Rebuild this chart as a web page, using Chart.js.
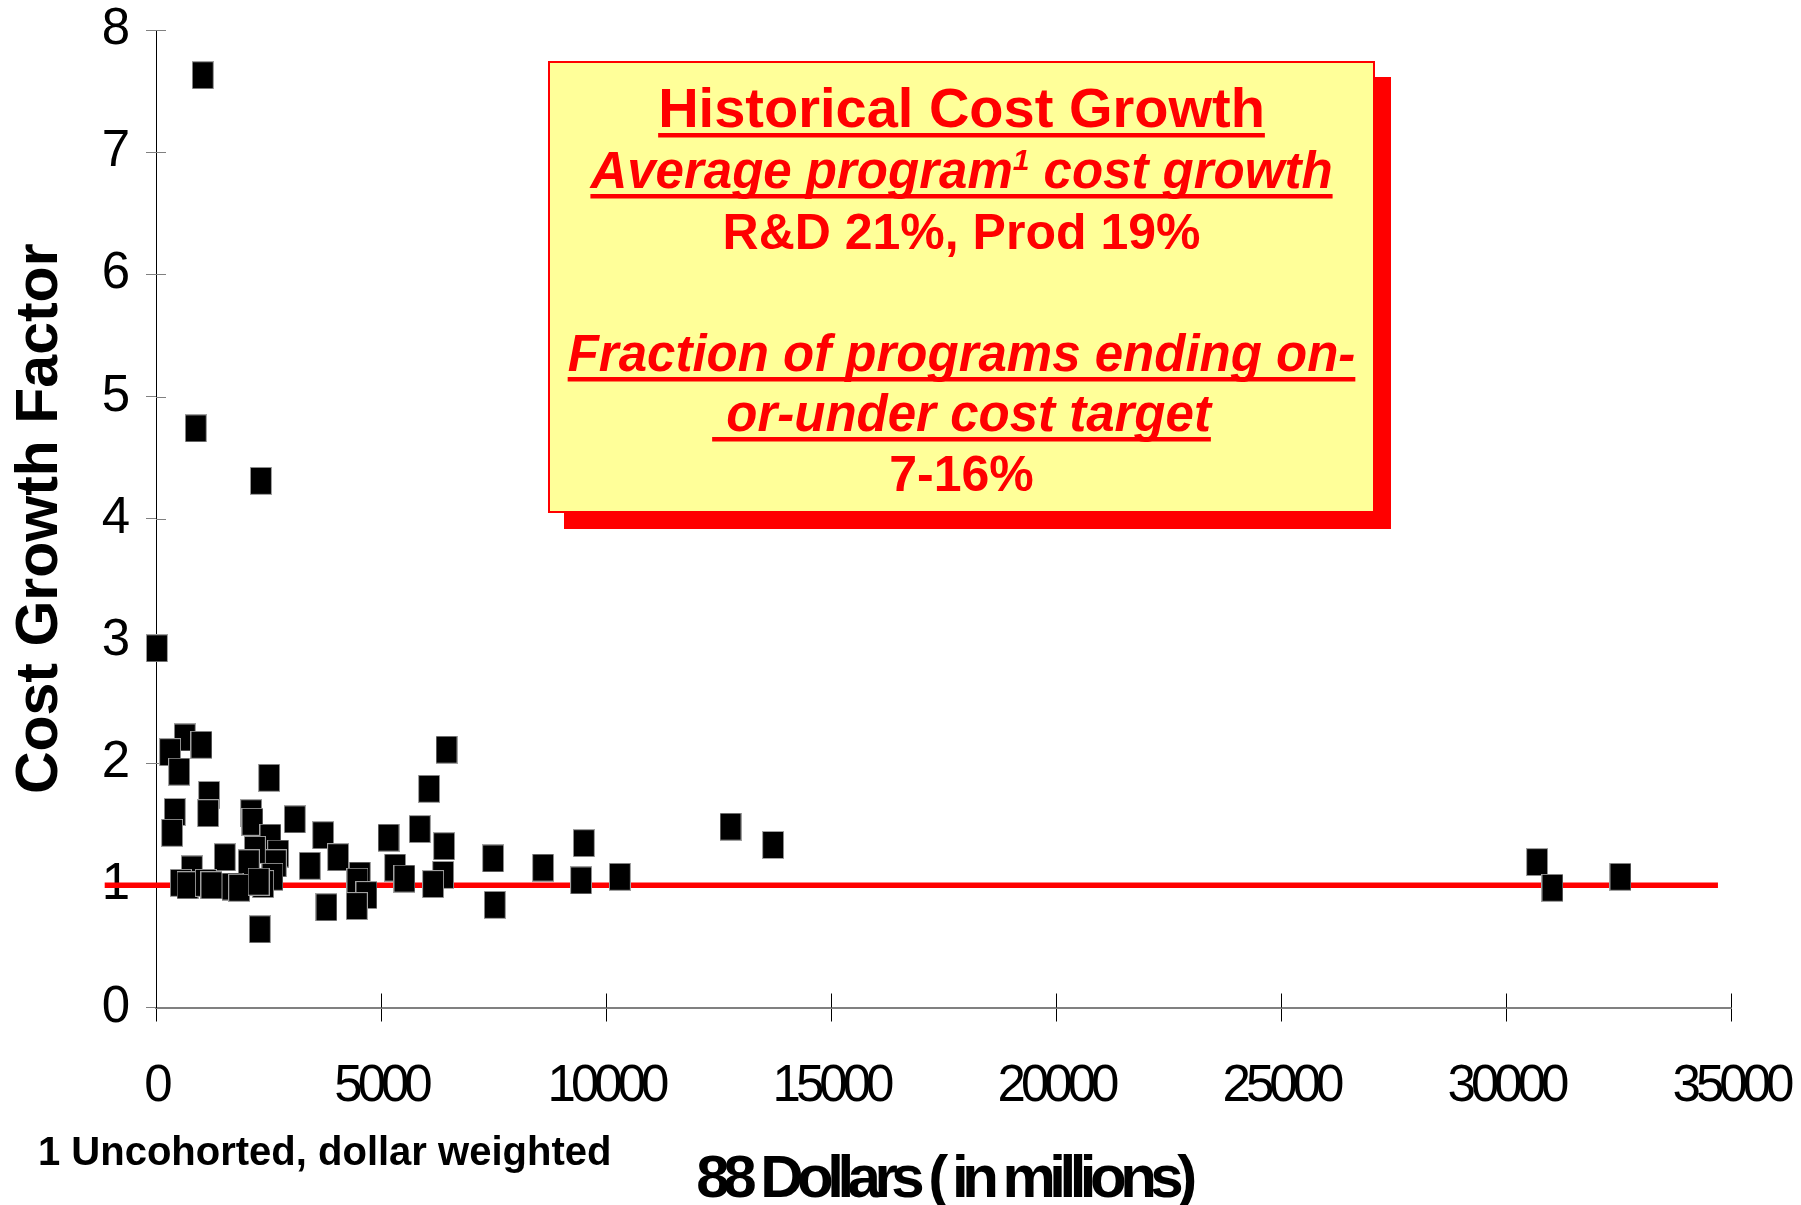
<!DOCTYPE html>
<html>
<head>
<meta charset="utf-8">
<script src="https://cdn.jsdelivr.net/npm/chart.js@4.4.1/dist/chart.umd.min.js"></script>
<style>
html,body{margin:0;padding:0;background:#ffffff;}
#wrap{width:1801px;height:1205px;position:relative;}
canvas{display:block;}
</style>
</head>
<body>
<div id="wrap"><canvas id="c" width="1801" height="1205"></canvas></div>
<script>
// ---------- DATA ----------
const programCost = [20, 640, 1011, 313, 514, 1180, 1158, 418, 358, 2514,
  2114, 2144, 2544, 2196, 3084, 3714, 2714, 2662, 2588, 2062,
  1529, 796, 3418, 4047, 5167, 5862, 6069, 6456, 6402, 6381,
  6158, 5313, 5522, 4529, 4477, 4677, 4462, 3788, 7491, 7529,
  2307, 551, 700, 1107, 1233, 1700, 2381, 1850, 2280, 8602,
  9507, 9447, 10307, 12767, 13713, 30691, 31033, 32544, 1040, 884, 2331];
const costGrowth = [2.94, 2.21, 2.15, 2.09, 1.93, 1.74, 1.59, 1.60, 1.43, 1.88,
  1.59, 1.52, 1.39, 1.29, 1.54, 1.41, 1.26, 1.18, 1.07, 1.18,
  1.23, 1.13, 1.16, 1.23, 1.39, 1.46, 1.79, 2.11, 1.32, 1.085,
  1.01, 1.145, 1.055, 1.08, 1.03, 0.92, 0.83, 0.82, 1.22, 0.84,
  0.64, 1.02, 1.00, 1.02, 1.00, 0.99, 1.01, 0.98, 1.03, 1.145,
  1.345, 1.04, 1.07, 1.48, 1.33, 1.19, 0.98, 1.07, 7.63, 4.74, 4.31];
const targetLineX = [-1140, 34710];
const targetLineY = [1, 1];
const xTicks = [0, 5000, 10000, 15000, 20000, 25000, 30000, 35000];
const yTicks = [0, 1, 2, 3, 4, 5, 6, 7, 8];
const yTitle = 'Cost Growth Factor';
const xTitle = '88 Dollars ( in millions)';
const footnote = '1 Uncohorted, dollar weighted';
const boxTitle = 'Historical Cost Growth';
const boxAvgMain = 'Average program';
const boxAvgSup = '1';
const boxAvgEnd = ' cost growth';
const boxAvgValues = 'R&D 21%, Prod 19%';
const boxFraction1 = 'Fraction of programs ending on-';
const boxFraction2 = ' or-under cost target';
const boxFractionValue = '7-16%';

// ---------- STYLE ----------
const FONT = "'Liberation Sans', Arial, Helvetica, sans-serif";
const RED = '#ff0000';

// marker: black rectangle with thin grey edge
const marker = document.createElement('canvas');
marker.width = 22; marker.height = 28;
(function(){
  const m = marker.getContext('2d');
  m.fillStyle = '#000000';
  m.fillRect(0, 0, 22, 28);
  m.strokeStyle = '#a0a0a0';
  m.lineWidth = 1;
  m.strokeRect(0.5, 0.5, 21, 27);
})();

function noPad(scale) {
  scale.paddingTop = 0; scale.paddingBottom = 0;
  scale.paddingLeft = 0; scale.paddingRight = 0;
}

const overlay = {
  id: 'overlay',
  beforeDatasetsDraw(chart) {
    const ctx = chart.ctx, a = chart.chartArea;
    const xs = chart.scales.x, ys = chart.scales.y;
    ctx.save();
    ctx.lineWidth = 1;
    ctx.strokeStyle = '#000000';
    xTicks.forEach(v => {
      const px = Math.round(xs.getPixelForValue(v)) + 0.5;
      ctx.beginPath(); ctx.moveTo(px, a.bottom); ctx.lineTo(px, a.bottom - 14); ctx.stroke();
    });
    ctx.strokeStyle = '#808080';
    yTicks.forEach(v => {
      const py = Math.round(ys.getPixelForValue(v)) + 0.5;
      ctx.beginPath(); ctx.moveTo(a.left, py); ctx.lineTo(a.left + 10, py); ctx.stroke();
    });
    ctx.restore();
  },
  afterDatasetsDraw(chart) {
    chart.ctx.letterSpacing = '-5px';
  },
  afterDraw(chart) {
    const ctx = chart.ctx;
    ctx.letterSpacing = '0px';
    ctx.save();
    // footnote
    ctx.fillStyle = '#000000';
    ctx.textAlign = 'left';
    ctx.textBaseline = 'alphabetic';
    ctx.font = 'bold 40px ' + FONT;
    ctx.fillText(footnote, 38, 1165);
    // x axis title (tight spacing)
    ctx.font = 'bold 60px ' + FONT;
    ctx.letterSpacing = '-6.5px';
    const a = chart.chartArea;
    const tw = ctx.measureText(xTitle).width;
    ctx.fillText(xTitle, (a.left + a.right) / 2 - tw / 2, 1197);
    ctx.letterSpacing = '0px';

    // text box with shadow
    const bx = 548, by = 61, bw = 827, bh = 452, sh = 16;
    ctx.fillStyle = RED;
    ctx.fillRect(bx + sh, by + sh, bw, bh);
    ctx.fillStyle = '#ffff99';
    ctx.fillRect(bx, by, bw, bh);
    ctx.strokeStyle = RED;
    ctx.lineWidth = 2;
    ctx.strokeRect(bx + 1, by + 1, bw - 2, bh - 2);

    const cx = bx + bw / 2;
    ctx.fillStyle = RED;
    function line(segs, baseline, ul) {
      const widths = segs.map(s => { ctx.font = s.font; return ctx.measureText(s.text).width; });
      const total = widths.reduce((p, q) => p + q, 0);
      let x = cx - total / 2;
      segs.forEach((s, i) => { ctx.font = s.font; ctx.fillText(s.text, x, baseline + (s.dy || 0)); x += widths[i]; });
      if (ul) ctx.fillRect(cx - total / 2, baseline + 6, total, 4.5);
    }
    const fb = 'bold 56px ' + FONT;
    const fi = 'italic bold 51px ' + FONT;
    const fn = 'bold 50px ' + FONT;
    const fs = 'italic bold 30px ' + FONT;
    line([{text: boxTitle, font: fb}], 127, true);
    line([{text: boxAvgMain, font: fi}, {text: boxAvgSup, font: fs, dy: -18}, {text: boxAvgEnd, font: fi}], 188, true);
    line([{text: boxAvgValues, font: fn}], 249, false);
    line([{text: boxFraction1, font: fi}], 371, true);
    line([{text: boxFraction2, font: fi}], 431, true);
    line([{text: boxFractionValue, font: fn}], 491, false);
    ctx.restore();
  }
};

const points = programCost.map((x, i) => ({x: x, y: costGrowth[i]}));
const target = targetLineX.map((x, i) => ({x: x, y: targetLineY[i]}));

new Chart(document.getElementById('c'), {
  type: 'scatter',
  data: {
    datasets: [
      {
        type: 'line',
        data: target,
        borderColor: RED,
        borderWidth: 5.5,
        pointRadius: 0,
        fill: false,
        clip: false,
        order: 2
      },
      {
        type: 'scatter',
        data: points,
        pointStyle: marker,
        pointRadius: 12,
        clip: false,
        order: 1
      }
    ]
  },
  plugins: [overlay],
  options: {
    responsive: false,
    devicePixelRatio: 1,
    animation: false,
    events: [],
    layout: {padding: {left: 0, top: 30, right: 70, bottom: 0}},
    plugins: {legend: {display: false}, tooltip: {enabled: false}, title: {display: false}},
    scales: {
      x: {
        type: 'linear',
        min: 0, max: 35000,
        afterFit(scale) { scale.height = 197.5; noPad(scale); },
        afterBuildTicks(scale) { scale.ticks = xTicks.map(v => ({value: v})); },
        ticks: {
          callback: v => String(v),
          font: {family: FONT, size: 51},
          color: '#000000',
          padding: 35,
          maxRotation: 0,
          autoSkip: false,
          z: 1
        },
        grid: {display: true, drawOnChartArea: false, drawTicks: true, tickLength: 14, tickColor: '#000000', tickWidth: 1},
        border: {display: true, color: '#808080', width: 2},
        title: {display: false}
      },
      y: {
        type: 'linear',
        min: 0, max: 8,
        afterFit(scale) { scale.width = 156; noPad(scale); },
        afterBuildTicks(scale) { scale.ticks = yTicks.map(v => ({value: v})); },
        ticks: {
          callback: v => String(v),
          font: {family: FONT, size: 51},
          color: '#000000',
          padding: 16
        },
        grid: {display: true, drawOnChartArea: false, drawTicks: true, tickLength: 10, tickColor: '#808080', tickWidth: 1},
        border: {display: true, color: '#000000', width: 1},
        title: {
          display: true,
          text: yTitle,
          color: '#000000',
          font: {family: FONT, size: 59, weight: 'bold'},
          padding: {top: 5, bottom: 0}
        }
      }
    }
  }
});
</script>
</body>
</html>
